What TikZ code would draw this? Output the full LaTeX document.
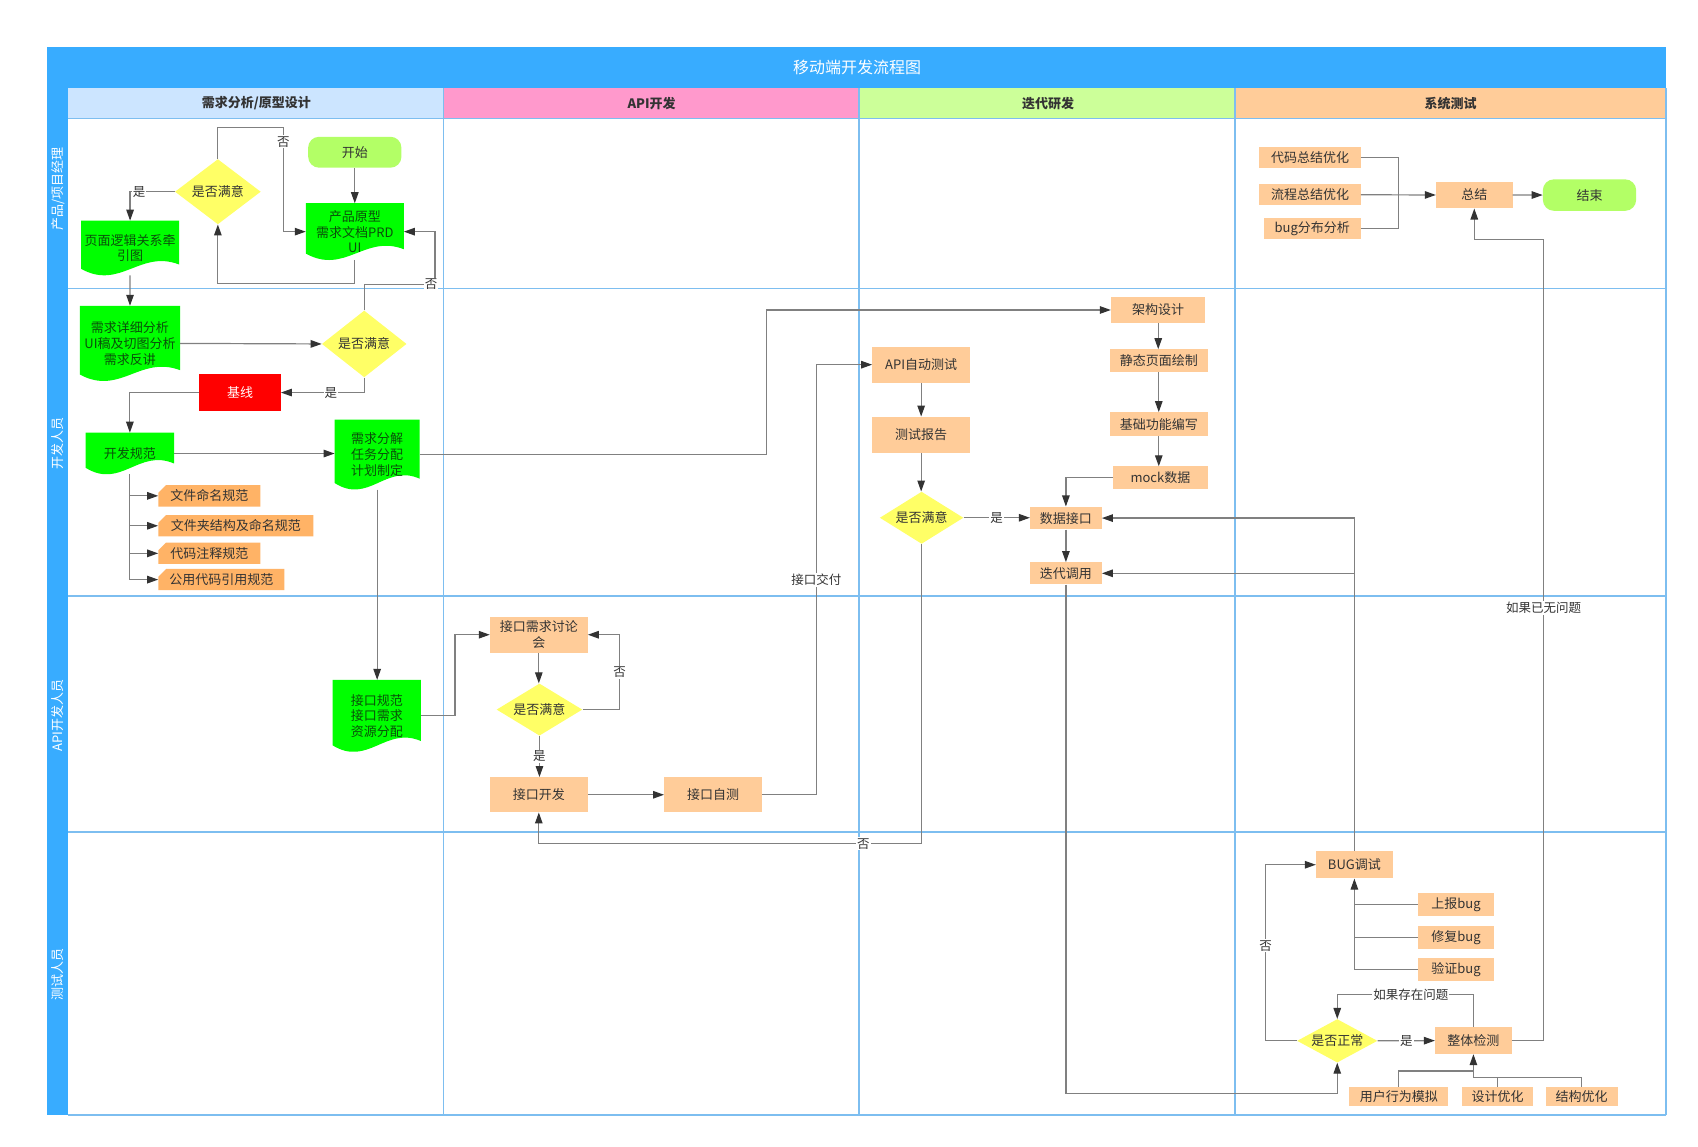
\documentclass[tikz,border=0pt]{standalone}
\usepackage{fontspec}
\setmainfont{Noto Sans CJK SC}
\usetikzlibrary{arrows.meta,calc,shapes.geometric,shapes.misc,backgrounds}

\definecolor{titleblue}{RGB}{56,172,255}
\definecolor{gridblue}{RGB}{125,190,240}
\definecolor{hdrblue}{RGB}{204,229,255}
\definecolor{hdrpink}{RGB}{255,153,204}
\definecolor{hdrgreen}{RGB}{204,255,153}
\definecolor{hdrorange}{RGB}{255,204,153}
\definecolor{peach}{RGB}{255,204,153}
\definecolor{tagorange}{RGB}{255,179,102}
\definecolor{docgreen}{RGB}{0,255,0}
\definecolor{doctext}{RGB}{10,80,10}
\definecolor{termgreen}{RGB}{179,255,102}
\definecolor{decyellow}{RGB}{255,255,102}
\definecolor{basered}{RGB}{255,0,0}
\definecolor{linegray}{RGB}{128,128,128}
\definecolor{tipgray}{RGB}{51,51,51}
\definecolor{txtgray}{RGB}{51,51,51}

\newcommand{\pu}{1.085pt}
\newcommand{\nodefont}{\fontsize{13}{15.8}\selectfont}
\newcommand{\lblfont}{\fontsize{12.5}{14}\selectfont}
% green document shape with a wavy bottom, drawn behind a named node
\newcommand{\docfill}[1]{%
  \fill[docgreen] (#1.north west) -- (#1.north east) -- ($(#1.south east)+(0,-10)$)
    .. controls ($(#1.south east)!0.4!(#1.south west)+(0,-24)$) and ($(#1.south east)!0.6!(#1.south west)+(0,14)$)
    .. ($(#1.south west)+(0,-6)$) -- cycle;}

\tikzset{
  sz/.style 2 args={minimum width=#1*\pu, minimum height=#2*\pu},
  proc/.style={rectangle, fill=peach, inner sep=1pt, align=center, font=\nodefont, text=txtgray},
  doc/.style={rectangle, inner sep=1pt, align=center, font=\nodefont, text=doctext},
  dec/.style={diamond, fill=decyellow, inner sep=0pt, font=\nodefont, text=txtgray},
  term/.style={rectangle, rounded corners=11pt, fill=termgreen, font=\nodefont, text=txtgray},
  tag/.style={chamfered rectangle, chamfered rectangle corners=north west, chamfered rectangle xsep=4pt,
    fill=tagorange, inner sep=1pt, font=\nodefont, text=txtgray},
  hdr/.style={font=\fontsize{13}{15}\selectfont\bfseries, text=txtgray},
  lanetxt/.style={rotate=90, font=\fontsize{13}{15}\selectfont, text=white},
  conn/.style={draw=linegray, line width=1.2pt, -{Triangle[length=11pt,width=7.5pt,color=tipgray]}},
  link/.style={draw=linegray, line width=1.2pt},
  lbl/.style={fill=white, inner sep=1pt, font=\lblfont, text=txtgray},
  laneline/.style={draw=gridblue, line width=1.4pt}
}

\begin{document}
\begin{tikzpicture}[x=1.085pt,y=1.085pt,yscale=-1,xscale=1]
\useasboundingbox (0,0) rectangle (1565,1057.1);
\begin{scope}[on background layer]
  \fill[white] (0,0) rectangle (1565,1057.1);
\end{scope}

% frame, title and headers
\fill[titleblue] (43.6,43.6) rectangle (1535.5,81.4);
\fill[titleblue] (43.6,81.4) rectangle (63,1027.6);
\node[font=\fontsize{16}{18}\selectfont, text=white] (title) at (790,62.5) {移动端开发流程图};
\fill[hdrblue] (63,81.4) rectangle (408.6,109);
\fill[hdrpink] (408.6,81.4) rectangle (791.7,109);
\fill[hdrgreen] (791.7,81.4) rectangle (1138.2,109);
\fill[hdrorange] (1138.2,81.4) rectangle (1535.5,109);
\node[hdr] (h1) at (236.3,95.2) {需求分析/原型设计};
\node[hdr] (h2) at (600.5,95.2) {API开发};
\node[hdr] (h3) at (966,95.2) {迭代研发};
\node[hdr] (h4) at (1337,95.2) {系统测试};
\foreach \y in {109,265.7,549.3,767,1027.6} \draw[laneline] (63,\y) -- (1535.5,\y);
\foreach \x in {408.6,791.7,1138.2,1535.5} \draw[laneline] (\x,81.4) -- (\x,1027.6);
\node[lanetxt] (lane1) at (53.5,174) {产品/项目经理};
\node[lanetxt] (lane2) at (53.5,408.6) {开发人员};
\node[lanetxt] (lane3) at (53.5,659.5) {API开发人员};
\node[lanetxt] (lane4) at (53.5,898) {测试人员};

% lane 1
\node[term, sz={86}{28.5}] (start) at (327,140.3) {开始};
\node[doc, sz={90}{52}] (prd) at (327,213.5) {产品原型\\需求文档PRD\\UI};
\node[dec, sz={79}{60}, aspect=1.32] (ok1) at (200.8,176.7) {是否满意};
\node[doc, sz={90}{50}] (logic) at (119.9,228.6) {页面逻辑关系牵\\引图};

% lane 2
\node[doc, sz={92}{69}] (detail) at (119.8,316.5) {需求详细分析\\UI稿及切图分析\\需求反讲};
\node[dec, sz={78}{61.5}, aspect=1.27] (ok2) at (335.7,317) {是否满意};
\node[rectangle, fill=basered, text=white, font=\nodefont, sz={75}{33.5}] (base) at (221.2,361.8) {基线};
\node[doc, sz={81}{38}] (spec) at (119.7,418) {开发规范};
\node[doc, sz={78}{64}] (split) at (347.6,419) {需求分解\\任务分配\\计划制定};
\node[tag, sz={94}{17}] (t1) at (193,457) {文件命名规范};
\node[tag, sz={143}{18.7}] (t2) at (217.4,484.6) {文件夹结构及命名规范};
\node[tag, sz={94}{17}] (t3) at (193,510) {代码注释规范};
\node[tag, sz={116}{18}] (t4) at (204,534.2) {公用代码引用规范};

\node[proc, sz={87}{23.4}] (arch) at (1067.5,285.7) {架构设计};
\node[proc, sz={90}{21}] (static) at (1068,332.5) {静态页面绘制};
\node[proc, sz={90}{22}] (basic) at (1068,391) {基础功能编写};
\node[proc, sz={87}{20.7}] (mock) at (1069.5,440.3) {mock数据};
\node[proc, sz={90}{33}] (apitest) at (849,336.1) {API自动测试};
\node[proc, sz={90}{33}] (report) at (849,400.6) {测试报告};
\node[dec, sz={77}{48}, aspect=1.6] (ok4) at (849.4,477.2) {是否满意};
\node[proc, sz={66}{21}] (data) at (982.4,477.5) {数据接口};
\node[proc, sz={66}{20.3}] (iter) at (982.4,528.4) {迭代调用};

% lane 3
\node[doc, sz={81}{66}] (iface) at (347.3,659.8) {接口规范\\接口需求\\资源分配};
\node[proc, sz={90}{33}] (meet) at (496.6,585) {接口需求讨论\\会};
\node[dec, sz={79}{48}, aspect=1.65] (ok3) at (497.2,654) {是否满意};
\node[proc, sz={90}{32.3}] (apidev) at (496.6,732.5) {接口开发};
\node[proc, sz={90}{32.3}] (selftest) at (657.2,732.5) {接口自测};

% system test column
\node[proc, sz={93.3}{18.7}] (sum1) at (1207.4,145.2) {代码总结优化};
\node[proc, sz={93.3}{19}] (sum2) at (1207.4,179.5) {流程总结优化};
\node[proc, sz={89}{19.4}] (sum3) at (1209.5,210.9) {bug分布分析};
\node[proc, sz={70.5}{24.6}] (total) at (1358.8,179.7) {总结};
\node[term, sz={86}{29}] (finish) at (1465,179.8) {结束};
\node[proc, sz={70.7}{25.2}] (bugfix) at (1248.3,797) {BUG调试};
\node[proc, sz={70}{21}] (rep) at (1342,833.8) {上报bug};
\node[proc, sz={70}{21}] (fix) at (1342,864.1) {修复bug};
\node[proc, sz={70}{20.7}] (verify) at (1342,893.6) {验证bug};
\node[dec, sz={74}{40}, aspect=1.85] (ok5) at (1232.5,959.3) {是否正常};
\node[proc, sz={70.6}{24.6}] (whole) at (1358,959.1) {整体检测};
\node[proc, sz={91}{17}] (sim) at (1289.2,1010.5) {用户行为模拟};
\node[proc, sz={66}{17}] (dopt) at (1380.2,1010.5) {设计优化};
\node[proc, sz={66.4}{17}] (sopt) at (1457.8,1010.5) {结构优化};

\begin{scope}[on background layer]
  \foreach \dn in {prd,logic,detail,spec,split,iface} {\docfill{\dn}}
\end{scope}

% connectors
\draw[conn] (start) -- (prd);
\draw[conn] (prd.south) -- ++(0,21.5) -| (ok1.south);
\draw[conn] (ok1.north) -- ++(0,-29.3) -| node[lbl, pos=0.57] {否} ($(prd.west)+(-20.6,0)$) -- (prd.west);
\draw[conn] (ok1.west) -| node[lbl, pos=0.4] {是} (logic.north);
\draw[conn] (logic.south) -- (detail.north);
\draw[conn] (detail.east) -- (ok2.west);
\coordinate (bend2) at (401,262);
\draw[conn] (ok2.north) |- (bend2) node[lbl, xshift=-4pt] {否} |- (prd.east);
\draw[conn] (ok2.south) |- node[lbl, pos=0.7] {是} (base.east);
\draw[conn] (base.west) -| (spec.north);
\draw[conn] (spec.east) -- (spec.east -| split.west);
\foreach \tg in {t1,t2,t3,t4} \draw[conn] (spec.south) |- (\tg.west);
\draw[conn] (split.east) -| ($(arch.west)+(-317,0)$) -- (arch.west);
\draw[conn] (split.south) -- (split.south |- iface.north);
\draw[conn] (iface.east) -- ++(31.4,0) |- (meet.west);
\draw[conn] (meet.south) -- (meet.south |- ok3.north);
\draw[conn] (ok3.east) -| node[lbl, pos=0.75] {否} ($(meet.east)+(29.2,0)$) -- (meet.east);
\draw[conn] (ok3.south) -- node[lbl] {是} (ok3.south |- apidev.north);
\draw[conn] (apidev.east) -- (selftest.west);
\draw[conn] (selftest.east) -| node[lbl, pos=0.75] {接口交付} ($(apitest.west)+(-51.3,0)$) -- (apitest.west);
\draw[conn] (apitest) -- (report);
\draw[conn] (report.south) -- (report.south |- ok4.north);
\draw[conn] (ok4.east) -- node[lbl] {是} (ok4.east -| data.west);
\draw[conn] (ok4.south) |- node[lbl, pos=0.576] {否} ($(apidev.south)+(0,28.7)$) -- (apidev.south);
\draw[conn] (arch.south) -- (arch.south |- static.north);
\draw[conn] (static) -- (basic);
\draw[conn] (basic.south) -- (basic.south |- mock.north);
\draw[conn] (mock.west) -| (data.north);
\draw[conn] (data) -- (iter);
\draw[conn] (iter.south) |- ($(ok5.south)+(0,28.4)$) -- (ok5.south);
\coordinate (sumjoin) at ($(total.west)+(-34.7,0)$);
\draw[link] (sum1.east) -| (sumjoin);
\draw[link] (sum3.east) -| (sumjoin);
\draw[conn] (sum2.east) -- (total.west);
\draw[conn] (total) -- (finish);
\draw[conn] (whole.east) -- ++(29.2,0) |- node[lbl, pos=0.27] {如果已无问题} ($(total.south)+(0,28.6)$) -- (total.south);
\draw[conn] (bugfix.north) |- (data.east);
\draw[conn] (bugfix.north) |- (iter.east);
\draw[link] (rep.west) -- (rep.west -| bugfix.south);
\draw[link] (fix.west) -- (fix.west -| bugfix.south);
\draw[conn] (verify.west) -| (bugfix.south);
\draw[conn] (ok5.west) -- ++(-28.9,0) |- node[lbl, pos=0.27] {否} (bugfix.west);
\draw[conn] (ok5.east) -- node[lbl] {是} (whole.west);
\draw[conn] (whole.north) |- node[lbl, pos=0.73] {如果存在问题} ($(ok5.north)+(0,-22.7)$) -- (ok5.north);
\draw[conn] (sim.north) |- ($(whole.south)+(0,15.6)$) -- (whole.south);
\draw[link] (dopt.north) |- ($(whole.south)+(0,21.6)$);
\draw[link] (sopt.north) |- ($(whole.south)+(0,21.6)$) -- ($(whole.south)+(0,15.6)$);
\end{tikzpicture}
\end{document}
